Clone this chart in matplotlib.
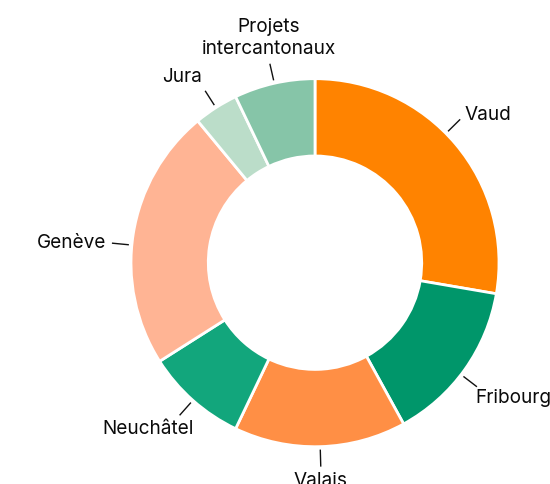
import numpy as np
import matplotlib
matplotlib.use("Agg")
import matplotlib.pyplot as plt

plt.rcParams['font.family'] = ['Inter', 'DejaVu Sans']

# share of budget per canton (%), clockwise from 12 o'clock
cantons = ["Vaud", "Fribourg", "Valais", "Neuchâtel", "Genève", "Jura",
           "Projets\nintercantonaux"]
shares = [27.7, 14.3, 15.1, 8.9, 23.0, 3.9, 7.1]
colors = ["#FF8300", "#00966A", "#FF8F45", "#12A67C", "#FFB494", "#BBDDC9", "#86C5A8"]

# small nudges (degrees) so the labels sit like the original
label_nudge = {"Vaud": -4.5, "Genève": -3.5, "Fribourg": 2}
# extra shift of the text in pixels
label_dx = {"Neuchâtel": 18, "Fribourg": -6}
label_dy = {"Fribourg": -8}

fig = plt.figure(figsize=(5.5, 4.84), dpi=100)
ax = fig.add_axes([0, 0, 1, 1])

wedges, _ = ax.pie(shares, colors=colors, startangle=90, counterclock=False,
                   radius=1.0, wedgeprops=dict(width=0.42, edgecolor='white', linewidth=2))

# place the ring: centre at (315, 262.7) px, outer radius 184 px
R = 184.0
cx, cy = 315.0, 262.7
ax.set_xlim(-cx / R, (550 - cx) / R)
ax.set_ylim(-(484 - cy) / R, cy / R)
ax.set_aspect('equal')
ax.axis('off')

total = sum(shares)
start = 0.0
for name, val in zip(cantons, shares):
    mid = start + val / total * 360.0 / 2
    start += val / total * 360.0
    ang = np.deg2rad(mid + label_nudge.get(name, 0))
    s, c = np.sin(ang), np.cos(ang)
    ax.plot([1.02 * s, 1.105 * s], [1.02 * c, 1.105 * c], color='#111111', lw=1)
    if abs(s) < 0.3:
        ha = 'center'
    elif s > 0:
        ha = 'left'
    else:
        ha = 'right'
    if c > 0.5 and ha != 'left':
        va = 'bottom'
    elif c < -0.3 and ha != 'left':
        va = 'top'
    else:
        va = 'center'
    tx = 1.14 * s + label_dx.get(name, 0) / R
    ty = 1.14 * c + label_dy.get(name, 0) / R
    ax.text(tx, ty, name, ha=ha, va=va, fontsize=13.7, color='#0a0a0a',
            multialignment='center', linespacing=1.3)

fig.savefig("out.png", dpi=100)
